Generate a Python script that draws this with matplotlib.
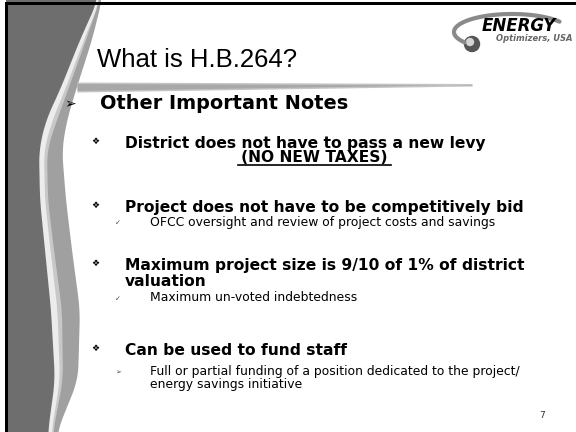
"""
Slide: What is H.B.264? - Other Important Notes
Rendered with matplotlib in pixel coordinates (576x432).
"""

import numpy as np
import matplotlib.pyplot as plt
from matplotlib.patches import Circle, Rectangle

# --- slide texts ---
title = "What is H.B.264?"
heading = "Other Important Notes"
points = [
    ["District does not have to pass a new levy"],
    ["Project does not have to be competitively bid"],
    ["Maximum project size is 9/10 of 1% of district", "valuation"],
    ["Can be used to fund staff"],
]
point_base = [148, 212, 270, 355]
note = "(NO NEW TAXES)"
subs = [
    None,
    ["OFCC oversight and review of project costs and savings"],
    ["Maximum un-voted indebtedness"],
    ["Full or partial funding of a position dedicated to the project/",
     "energy savings initiative"],
]
sub_base = [None, 226, 301, 375]
sub_marks = [None, "\u2713", "\u2713", "\u27a2"]
page_no = "7"

# --- left decoration profile (x of each band edge vs y) ---
deco_y = [0, 40, 90, 120, 150, 200, 250, 310, 380, 432]
dark_x = [98, 80, 60, 46, 39, 40, 45, 51, 55, 48]
light_x = [100, 86, 68, 57, 47, 48, 54, 62, 63, 53]
mid_x = [102, 92, 76, 67, 62, 66, 72, 80, 78, 57]

fig = plt.figure(figsize=(5.76, 4.32), dpi=100)
ax = fig.add_axes([0, 0, 1, 1])
ax.set_xlim(0, 576)
ax.set_ylim(432, 0)
ax.axis("off")


def smooth(xs):
    yy = np.linspace(0, 432, 300)
    v = np.interp(yy, deco_y, xs)
    k = np.ones(21) / 21
    return yy, np.convolve(np.pad(v, 10, mode="edge"), k, mode="valid")


yy, dk = smooth(dark_x)
_, lt = smooth(light_x)
_, md = smooth(mid_x)
ax.fill_betweenx(yy, 6, md, color="#a0a0a0", lw=0)
ax.fill_betweenx(yy, 6, lt, color="#c8c8c8", lw=0)
ax.fill_betweenx(yy, 6, (dk + lt) / 2 + 1, color="#ececec", lw=0)
ax.fill_betweenx(yy, 6, dk, color="#6e6e6e", lw=0)

# frame lines
ax.add_patch(Rectangle((5, 2), 571, 3, color="black", lw=0))
ax.add_patch(Rectangle((5, 2), 2.5, 430, color="black", lw=0))

# title swoosh
sx = np.linspace(77, 472, 100)
f = (sx - 77) / 395
top = 82 + f * 1.5
bot = 92 - f * 6
ax.fill_between(sx, top, bot, color="#c4c4c4", lw=0)
ax.fill_between(sx, top + 1.5, bot - 1.5, color="#a8a8a8", lw=0)

# logo
t = np.radians(np.linspace(35, 215, 80))
ax.plot(512 + 58 * np.cos(t), 32 - 18 * np.sin(t), color="#8a8a8a", lw=3,
        solid_capstyle="round")
ax.add_patch(Circle((472, 44), 7.5, color="#555555"))
ax.add_patch(Circle((470, 42), 3.5, color="#d4d4d4"))
ax.text(482, 31, "ENERGY", fontsize=12, fontweight="heavy", fontstyle="italic",
        family="DejaVu Sans", va="baseline", ha="left", color="black")
ax.text(496, 41, "Optimizers, USA", fontsize=6, fontweight="bold",
        fontstyle="italic", family="DejaVu Sans", va="baseline", ha="left",
        color="#666666")

# title and heading
ax.text(97, 67, title, fontsize=18.5, family="Liberation Sans",
        va="baseline", ha="left", color="black")
ax.text(70, 104, "\u27a2", fontsize=10, family="DejaVu Sans", va="center",
        ha="center", color="black")
ax.text(100, 109, heading, fontsize=13.9, fontweight="bold",
        family="DejaVu Sans", va="baseline", ha="left", color="black")

# bullet points
for i, lines in enumerate(points):
    b = point_base[i]
    ax.text(95.5, b - 6.5, "\u2756", fontsize=6.5, family="DejaVu Sans",
            va="center", ha="center", color="black")
    for j, line in enumerate(lines):
        ax.text(125, b + j * 16, line, fontsize=11.2, fontweight="bold",
                family="DejaVu Sans", va="baseline", ha="left", color="black")
    if i == 0:
        ax.text(314.5, b + 14, note, fontsize=11.2, fontweight="bold",
                family="DejaVu Sans", va="baseline", ha="center",
                color="black")
        ax.plot([238, 391], [b + 16.5, b + 16.5], color="black", lw=1.2)
    if subs[i]:
        sb = sub_base[i]
        ax.text(118, sb - 2.5, sub_marks[i], fontsize=5, family="DejaVu Sans",
                va="center", ha="center", color="#444444")
        for j, line in enumerate(subs[i]):
            ax.text(150, sb + j * 13, line, fontsize=8.9,
                    family="DejaVu Sans", va="baseline", ha="left",
                    color="black")

ax.text(542.5, 418, page_no, fontsize=6.5, family="DejaVu Sans",
        va="baseline", ha="center", color="#333333")

fig.savefig("out.png", dpi=100)
